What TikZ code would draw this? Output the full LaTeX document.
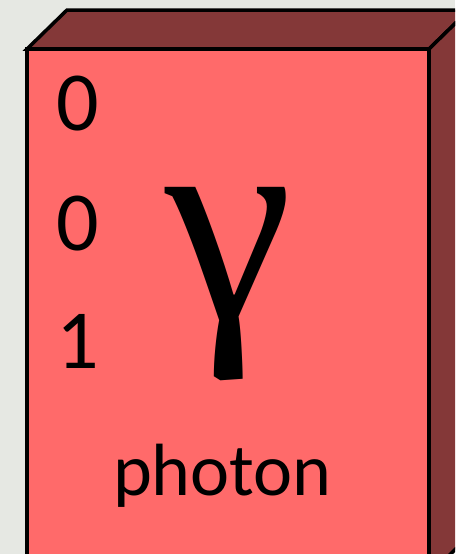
\documentclass[tikz,border=0pt]{standalone}
\usepackage{fontspec}
\setmainfont{Carlito}
\newfontfamily\gammafont{Liberation Serif}
\definecolor{bgc}{RGB}{230,232,227}
\definecolor{frontc}{RGB}{255,106,106}
\definecolor{darkc}{RGB}{132,56,56}
\begin{document}
\begin{tikzpicture}[x=1pt,y=-1pt,
  edge/.style={draw=black,line width=3.5pt,line join=miter},
  num/.style={inner sep=0pt,anchor=base,font=\fontsize{84}{84}\selectfont}]
\useasboundingbox (0,0) rectangle (455,554);
\fill[bgc] (0,0) rectangle (455,554);
\begin{scope}
\clip (0,0) rectangle (455,554);
\filldraw[edge,fill=darkc] (27,49) -- (67,10) -- (469,10) -- (429,49) -- cycle;
\filldraw[edge,fill=darkc] (429,49) -- (469,10) -- (469,536) -- (429,575) -- cycle;
\filldraw[edge,fill=frontc] (27,49) rectangle (429,575);
\end{scope}
\node[num] (n1) at (77.5,130) {0};
\node[num] (n2) at (77.5,250) {0};
\node[num] (n3) at (77.5,368) {1};
\node[inner sep=0pt,anchor=base,font=\gammafont\fontsize{288}{288}\selectfont] (g) at (229.5,319) {γ};
\node[inner sep=0pt,anchor=base,font=\fontsize{74}{74}\selectfont] (name) at (222.5,495) {photon};
\end{tikzpicture}
\end{document}
